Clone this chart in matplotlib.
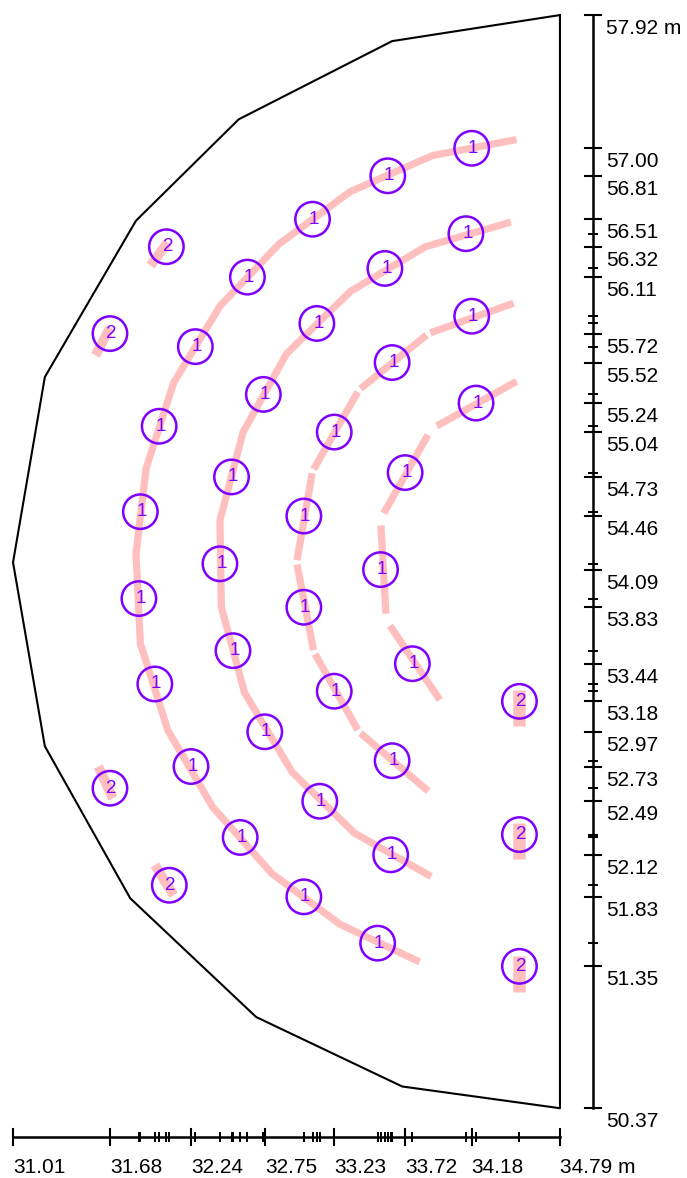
import matplotlib
matplotlib.use("Agg")
import matplotlib.pyplot as plt
from matplotlib.patches import Circle
from matplotlib.transforms import offset_copy

plt.rcParams['font.family'] = ['Liberation Sans', 'DejaVu Sans']

# outline of the area (m)
outline_x = [34.79, 33.63, 32.57, 31.86, 31.23, 31.01, 31.23, 31.82, 32.69, 33.70, 34.79, 34.79]
outline_y = [57.92, 57.74, 57.20, 56.50, 55.42, 54.14, 52.87, 51.82, 51.00, 50.52, 50.37, 57.92]

# pink rows (polyline vertices, m)
arc_a_x = [34.49, 33.91, 33.34, 32.85, 32.44, 32.12, 31.93, 31.86, 31.89, 32.08, 32.39, 32.80, 33.27, 33.82]
arc_a_y = [57.06, 56.95, 56.70, 56.34, 55.91, 55.38, 54.79, 54.20, 53.58, 52.98, 52.45, 51.99, 51.64, 51.38]
arc_b_x = [34.45, 33.86, 33.34, 32.90, 32.60, 32.44, 32.45, 32.61, 32.94, 33.37, 33.90]
arc_b_y = [56.49, 56.32, 56.01, 55.58, 55.04, 54.43, 53.83, 53.24, 52.69, 52.27, 51.97]
arc_c_x = [34.47, 33.88, 33.40, 33.08, 32.97, 33.09, 33.40, 33.88]
arc_c_y = [55.93, 55.72, 55.33, 54.77, 54.14, 53.52, 52.97, 52.56]
arc_d_x = [34.49, 33.90, 33.55, 33.59, 33.96]
arc_d_y = [55.39, 55.06, 54.44, 53.74, 53.19]
arc_gaps = [0.0, 0.0, 0.03, 0.09]

# points marked "1"
ones_x = [34.18, 33.60, 33.08, 32.63, 32.27, 32.02, 31.89, 31.88, 31.99, 32.24, 32.58, 33.02, 33.53,
          34.14, 33.58, 33.11, 32.74, 32.52, 32.44, 32.53, 32.75, 33.13, 33.62,
          34.18, 33.63, 33.23, 33.02, 33.02, 33.23, 33.63,
          34.21, 33.72, 33.55, 33.77]
ones_y = [57.00, 56.81, 56.51, 56.11, 55.63, 55.08, 54.49, 53.89, 53.30, 52.73, 52.24, 51.83, 51.51,
          56.41, 56.17, 55.79, 55.30, 54.73, 54.13, 53.53, 52.97, 52.49, 52.12,
          55.84, 55.52, 55.04, 54.46, 53.83, 53.25, 52.77,
          55.24, 54.76, 54.09, 53.44]

# points marked "2" and their short pink strokes
twos_x = [32.07, 31.68, 31.68, 32.09, 34.51, 34.51, 34.51]
twos_y = [56.32, 55.72, 52.58, 51.91, 53.18, 52.26, 51.35]
tail_x0 = [31.96, 31.58, 31.60, 31.99, 34.51, 34.51, 34.51]
tail_y0 = [56.19, 55.57, 52.73, 52.05, 53.26, 52.34, 51.42]
tail_x1 = [32.08, 31.68, 31.70, 32.12, 34.51, 34.51, 34.51]
tail_y1 = [56.35, 55.76, 52.51, 51.84, 53.01, 52.09, 51.17]

# labelled scale values
x_labels = [31.01, 31.68, 32.24, 32.75, 33.23, 33.72, 34.18, 34.79]
y_labels = [57.92, 57.00, 56.81, 56.51, 56.32, 56.11, 55.72, 55.52, 55.24, 55.04, 54.73, 54.46,
            54.09, 53.83, 53.44, 53.18, 52.97, 52.73, 52.49, 52.12, 51.83, 51.35, 50.37]

PINK = '#ffbfbf'
PURPLE = '#7f00ff'
R = 0.119

fig = plt.figure(figsize=(6.87, 11.78), dpi=100)
ax = fig.add_axes([0, 0, 1, 1])
ax.set_xlim(30.920, 35.668)
ax.set_ylim(49.888, 58.024)
ax.axis('off')

ax.plot(outline_x, outline_y, color='black', lw=1.5, zorder=2)

# rows, split into pieces where the drawing leaves gaps
for xs, ys, gap in zip([arc_a_x, arc_b_x, arc_c_x, arc_d_x],
                       [arc_a_y, arc_b_y, arc_c_y, arc_d_y], arc_gaps):
    if gap == 0:
        ax.plot(xs, ys, color=PINK, lw=5.2, solid_capstyle='butt', solid_joinstyle='round', zorder=1)
        continue
    n = len(xs)
    for i in range(n - 1):
        x0, y0, x1, y1 = xs[i], ys[i], xs[i + 1], ys[i + 1]
        d = ((x1 - x0) ** 2 + (y1 - y0) ** 2) ** 0.5
        ux, uy = (x1 - x0) / d, (y1 - y0) / d
        s0 = gap / 2 if i > 0 else 0
        s1 = gap / 2 if i < n - 2 else 0
        ax.plot([x0 + ux * s0, x1 - ux * s1], [y0 + uy * s0, y1 - uy * s1],
                color=PINK, lw=5.2, solid_capstyle='butt', zorder=1)

for i in range(len(twos_x)):
    w = 9 if tail_x0[i] == tail_x1[i] else 7
    ax.plot([tail_x0[i], tail_x1[i]], [tail_y0[i], tail_y1[i]], color=PINK, lw=w,
            solid_capstyle='butt', zorder=1)

for xs, ys, lab in [(ones_x, ones_y, '1'), (twos_x, twos_y, '2')]:
    for x, y in zip(xs, ys):
        ax.add_patch(Circle((x, y), R, fill=False, ec=PURPLE, lw=1.8, zorder=3))
        ax.text(x + 0.01, y, lab, color=PURPLE, fontsize=13.5, ha='center', va='center', zorder=4)

# scale bars
all_x = ones_x + twos_x
all_y = ones_y + twos_y
bar_y = 50.171
bar_x = 35.018
big, small = 0.055, 0.027
ax.plot([min(outline_x), max(outline_x)], [bar_y, bar_y], color='black', lw=1.8)
ax.plot([bar_x, bar_x], [min(outline_y), max(outline_y)], color='black', lw=1.8)
for v in all_x:
    ax.plot([v, v], [bar_y - small, bar_y + small], color='black', lw=1.4)
for v in all_y:
    ax.plot([bar_x - small, bar_x + small], [v, v], color='black', lw=1.4)

tr_x = offset_copy(ax.transData, fig=fig, x=0, y=-21, units='dots')
for i, v in enumerate(x_labels):
    ax.plot([v, v], [bar_y - big, bar_y + big], color='black', lw=1.5)
    s = f"{v:.2f}" + (" m" if i == len(x_labels) - 1 else "")
    ax.text(v, bar_y, s, transform=tr_x, fontsize=15, ha='left', va='top')

tr_y = offset_copy(ax.transData, fig=fig, x=13, y=-4, units='dots')
for i, v in enumerate(y_labels):
    ax.plot([bar_x - big, bar_x + big], [v, v], color='black', lw=1.5)
    s = f"{v:.2f}" + (" m" if i == 0 else "")
    ax.text(bar_x, v, s, transform=tr_y, fontsize=15, ha='left', va='top')

fig.savefig('out.png', dpi=100)
